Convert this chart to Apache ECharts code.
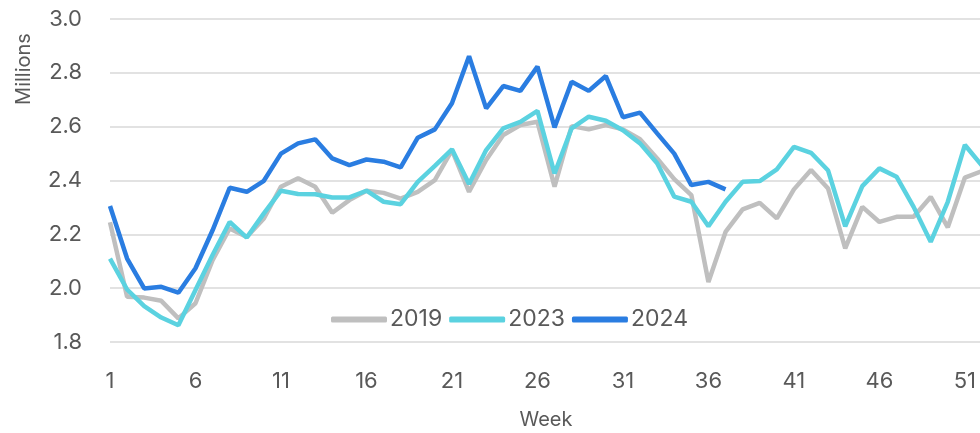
<!DOCTYPE html>
<html>
<head>
<meta charset="utf-8">
<script src="https://cdn.jsdelivr.net/npm/echarts@6/dist/echarts.min.js"></script>
<style>
  html, body { margin: 0; padding: 0; background: #fff; }
  #chart { width: 980px; height: 433px; }
</style>
</head>
<body>
<div id="chart"></div>
<script>
// weeks 1..52
var weeks = [];
for (var i = 1; i <= 52; i++) weeks.push(String(i));

var yearNames = ['2019', '2023', '2024'];
var yearColors = ['#bfbfbf', '#5bd2e0', '#2a7de1'];

// millions per week
var data2019 = [2.245, 1.968, 1.965, 1.953, 1.888, 1.944, 2.104, 2.222, 2.19, 2.259,
                2.377, 2.408, 2.377, 2.28, 2.327, 2.362, 2.354, 2.333, 2.358, 2.401,
                2.513, 2.358, 2.476, 2.569, 2.606, 2.618, 2.377, 2.602, 2.59, 2.606,
                2.59, 2.553, 2.482, 2.405, 2.346, 2.023, 2.209, 2.293, 2.317, 2.259,
                2.367, 2.439, 2.37, 2.148, 2.302, 2.246, 2.265, 2.265, 2.339, 2.226,
                2.411, 2.435];
var data2023 = [2.11, 1.995, 1.933, 1.891, 1.862, 1.993, 2.123, 2.246, 2.188, 2.278,
                2.362, 2.35, 2.349, 2.337, 2.337, 2.362, 2.321, 2.312, 2.395, 2.454,
                2.516, 2.387, 2.513, 2.594, 2.618, 2.659, 2.426, 2.594, 2.637, 2.622,
                2.587, 2.538, 2.464, 2.34, 2.321, 2.23, 2.321, 2.395, 2.398, 2.441,
                2.525, 2.503, 2.437, 2.23, 2.379, 2.445, 2.414, 2.302, 2.172, 2.321,
                2.532, 2.455];
var data2024 = [2.305, 2.11, 1.999, 2.005, 1.983, 2.074, 2.215, 2.373, 2.358, 2.399,
                2.5, 2.538, 2.553, 2.482, 2.457, 2.478, 2.47, 2.449, 2.559, 2.59,
                2.687, 2.862, 2.668, 2.751, 2.733, 2.823, 2.597, 2.767, 2.733, 2.788,
                2.635, 2.652, 2.575, 2.5, 2.383, 2.395, 2.367];

var seriesData = [data2019, data2023, data2024];
var textColor = '#595959';
var font = 'Inter';

var chart = echarts.init(document.getElementById('chart'));

var option = {
    animation: false,
    textStyle: { fontFamily: font, color: textColor },
    grid: { left: 110, right: -2, top: 19, bottom: 91, outerBoundsMode: 'none' },
    legend: {
        data: yearNames,
        left: 326,
        top: 303,
        icon: 'roundRect',
        itemWidth: 56,
        itemHeight: 6,
        itemGap: 7,
        textStyle: { fontFamily: font, fontSize: 23, color: textColor, padding: [0, 0, 0, -2] }
    },
    xAxis: {
        type: 'category',
        boundaryGap: false,
        data: weeks,
        name: 'Week',
        nameLocation: 'middle',
        nameGap: 68,
        nameTextStyle: { fontFamily: font, fontSize: 20, color: textColor },
        axisLine: { show: false },
        axisTick: { show: false },
        axisLabel: { interval: 4, margin: 28, fontSize: 22, color: textColor, fontFamily: font }
    },
    yAxis: {
        type: 'value',
        min: 1.8,
        max: 3.0,
        interval: 0.2,
        axisLine: { show: false },
        axisTick: { show: false },
        axisLabel: {
            margin: 28, fontSize: 22, color: textColor, fontFamily: font,
            formatter: function (v) { return v.toFixed(1); }
        },
        splitLine: { lineStyle: { color: '#d9d9d9', width: 1.5 } }
    },
    graphic: [{
        type: 'text',
        x: 24,
        y: 69,
        rotation: Math.PI / 2,
        style: {
            text: 'Millions',
            fontFamily: font,
            fontSize: 20,
            fill: textColor,
            align: 'center',
            verticalAlign: 'middle'
        }
    }],
    series: yearNames.map(function (name, i) {
        return {
            name: name,
            type: 'line',
            data: seriesData[i],
            symbol: 'none',
            color: yearColors[i],
            lineStyle: { width: 4.5, color: yearColors[i] }
        };
    })
};

chart.setOption(option);
</script>
</body>
</html>
